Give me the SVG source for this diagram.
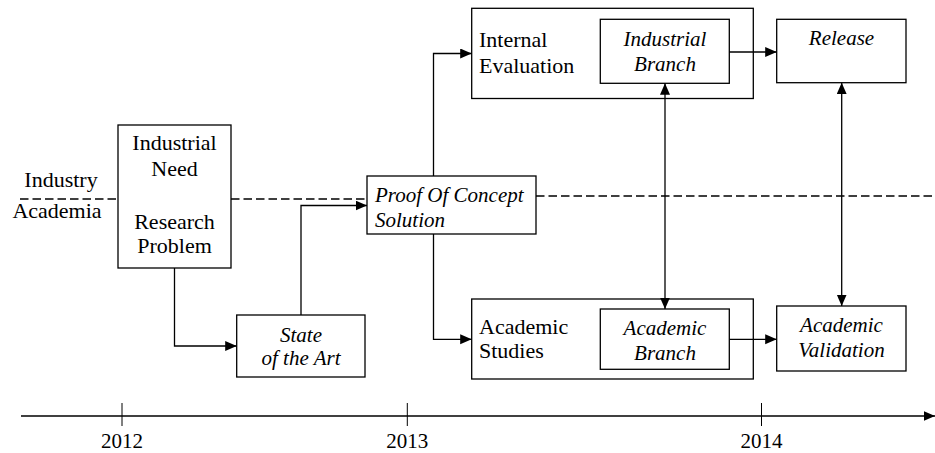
<svg xmlns="http://www.w3.org/2000/svg" width="935" height="453" viewBox="0 0 935 453">
<style>
.box{fill:#fff;stroke:#000;stroke-width:1.3}
.t{font-family:"Liberation Serif","Times New Roman",serif;font-size:22px;fill:#000}
.i{font-style:italic;font-size:21px}
.y{font-size:21px}
.c{text-anchor:middle}
.ln{fill:none;stroke:#000;stroke-width:1.3}
.dash{fill:none;stroke:#000;stroke-width:1.4;stroke-dasharray:8.5 4}
.thin{fill:none;stroke:#000;stroke-width:1}
</style>
<defs>
<marker id="ah" markerUnits="userSpaceOnUse" markerWidth="13" markerHeight="11" refX="11.5" refY="5" orient="auto-start-reverse">
<path d="M0,0 L11.5,5 L0,10 z" fill="#000"/>
</marker>
</defs>

<g id="division">
<text class="t c" x="61" y="187">Industry</text>
<text class="t c" x="57" y="218">Academia</text>
<path class="dash" d="M20,199 H118"/>
<path class="dash" d="M231,199 H367"/>
<path class="dash" d="M536,196 H935"/>
</g>

<g id="need">
<rect class="box" x="118" y="125" width="113" height="143"/>
<text class="t c" x="174.5" y="150">Industrial</text>
<text class="t c" x="174.5" y="176">Need</text>
<text class="t c" x="174.5" y="229">Research</text>
<text class="t c" x="174.5" y="253">Problem</text>
</g>

<g id="state">
<rect class="box" x="236.7" y="315" width="128.3" height="62"/>
<text class="t i c" x="301" y="342">State</text>
<text class="t i c" x="301" y="365">of the Art</text>
</g>

<g id="proof">
<rect class="box" x="367" y="176" width="169" height="58"/>
<text class="t i" x="375" y="202">Proof Of Concept</text>
<text class="t i" x="375" y="227">Solution</text>
</g>

<g id="internal">
<rect class="box" x="471.7" y="8.3" width="281.6" height="90.2"/>
<text class="t" x="479" y="47">Internal</text>
<text class="t" x="479" y="73">Evaluation</text>
</g>

<g id="ind-branch">
<rect class="box" x="600.3" y="19.3" width="129" height="64"/>
<text class="t i c" x="665" y="46">Industrial</text>
<text class="t i c" x="665" y="71">Branch</text>
</g>

<g id="release">
<rect class="box" x="776.7" y="19.3" width="129.3" height="63.4"/>
<text class="t i c" x="841.5" y="45">Release</text>
</g>

<g id="academic">
<rect class="box" x="471.7" y="299" width="281.6" height="80"/>
<text class="t" x="479" y="334">Academic</text>
<text class="t" x="479" y="358">Studies</text>
</g>

<g id="acad-branch">
<rect class="box" x="600.3" y="309" width="129" height="60.3"/>
<text class="t i c" x="665" y="335">Academic</text>
<text class="t i c" x="665" y="360">Branch</text>
</g>

<g id="validation">
<rect class="box" x="776.7" y="306" width="129.3" height="65"/>
<text class="t i c" x="841.5" y="332">Academic</text>
<text class="t i c" x="841.5" y="357">Validation</text>
</g>

<g id="connectors">
<path class="ln" d="M174.5,268 V346 H236.7" marker-end="url(#ah)"/>
<path class="ln" d="M301,315 V205.5 H367" marker-end="url(#ah)"/>
<path class="ln" d="M433.5,176 V53.5 H471.7" marker-end="url(#ah)"/>
<path class="ln" d="M433.5,234 V339.3 H471.7" marker-end="url(#ah)"/>
<path class="ln" d="M729.3,52 H776.7" marker-end="url(#ah)"/>
<path class="ln" d="M729.3,339.3 H776.7" marker-end="url(#ah)"/>
<path class="ln" d="M665,83.3 V309" marker-start="url(#ah)" marker-end="url(#ah)"/>
<path class="ln" d="M841.7,82.7 V306" marker-start="url(#ah)" marker-end="url(#ah)"/>
</g>

<g id="timeline">
<path class="ln" d="M21,416 H935" marker-end="url(#ah)"/>
<path class="thin" d="M122,403 V426 M407.3,403 V426 M761.5,403 V426"/>
<text class="t y c" x="122" y="448">2012</text>
<text class="t y c" x="407.3" y="448">2013</text>
<text class="t y c" x="761.5" y="448">2014</text>
</g>
</svg>
